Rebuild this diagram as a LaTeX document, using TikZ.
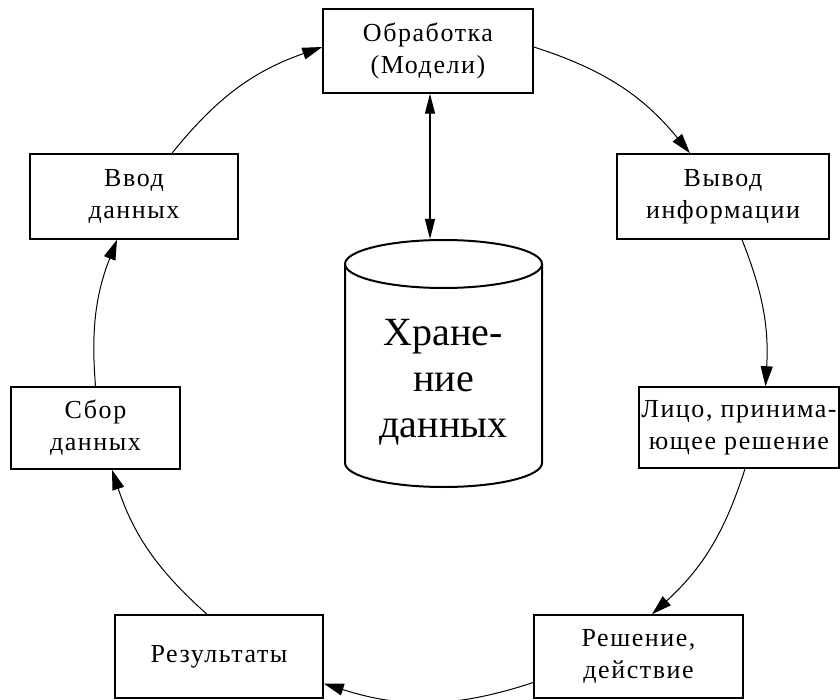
\documentclass[tikz,border=0pt]{standalone}
\usepackage{fontspec}
\setmainfont{Liberation Serif}
\newfontfamily\boxfont[LetterSpace=6]{Liberation Serif}
\newfontfamily\bigfont{Liberation Serif}
\usetikzlibrary{arrows.meta}
\begin{document}
\begin{tikzpicture}[x=1pt,y=-1pt,
  blk/.style={draw, line width=1.5pt, inner sep=0pt, align=center,
    font=\boxfont\fontsize{26}{32}\selectfont},
  flow/.style={line width=1pt, -{Triangle[length=20pt,width=12pt]}},
  both/.style={line width=1.2pt, {Triangle[length=20pt,width=10pt]}-{Triangle[length=20pt,width=10pt]}},
  cyl/.style={line width=2pt}
]
\useasboundingbox[fill=white] (0,0) rectangle (840,700);
% boxes
\node[blk, minimum width=210pt, minimum height=84pt] (obr) at (428,51) {Обработка\\(Модели)};
\node[blk, minimum width=212pt, minimum height=85pt] (vyvod) at (723,196.5) {Вывод\\информации};
\node[blk, minimum width=200pt, minimum height=81pt] (lico) at (739,427.5) {Лицо, принима-\\ющее решение};
\node[blk, minimum width=209pt, minimum height=83pt] (resh) at (638.5,656.5) {Решение,\\действие};
\node[blk, minimum width=208pt, minimum height=83pt] (rez) at (219,656.5) {Результаты};
\node[blk, minimum width=169pt, minimum height=82pt] (sbor) at (95.5,428) {Сбор\\данных};
\node[blk, minimum width=208pt, minimum height=85pt] (vvod) at (134,196.5) {Ввод\\данных};
% cylinder
\draw[cyl] (345,264) -- (345,463) arc[start angle=180, end angle=0, x radius=98.5, y radius=24] -- (542,264);
\draw[cyl] (443.5,264) ellipse [x radius=98.5, y radius=24];
\node[font=\bigfont\fontsize{40}{46}\selectfont, align=center, inner sep=0pt] (store) at (443.5,382) {Хране-\\ние\\данных};
\coordinate (cyltop) at (430,239);
% connectors
\draw[both] ([xshift=2pt]obr.south) -- (cyltop);
\draw[flow] ([xshift=38pt]vvod.north) to[bend left=16] ([yshift=4pt]obr.west);
\draw[flow] ([yshift=4pt]obr.east) to[bend left=16.5] ([xshift=-33pt]vyvod.north);
\draw[flow] ([xshift=19pt]vyvod.south) to[bend left=12.5] ([xshift=26.5pt]lico.north);
\draw[flow] ([xshift=6pt]lico.south) to[bend left=15] ([xshift=13.5pt]resh.north);
\draw[flow] ([yshift=-26pt]resh.west) to[bend left=18] ([yshift=-27pt]rez.east);
\draw[flow] ([xshift=-12pt]rez.north) to[bend left=15] ([xshift=16.5pt]sbor.south);
\draw[flow] (sbor.north) to[bend left=13] ([xshift=-17pt]vvod.south);
\end{tikzpicture}
\end{document}
